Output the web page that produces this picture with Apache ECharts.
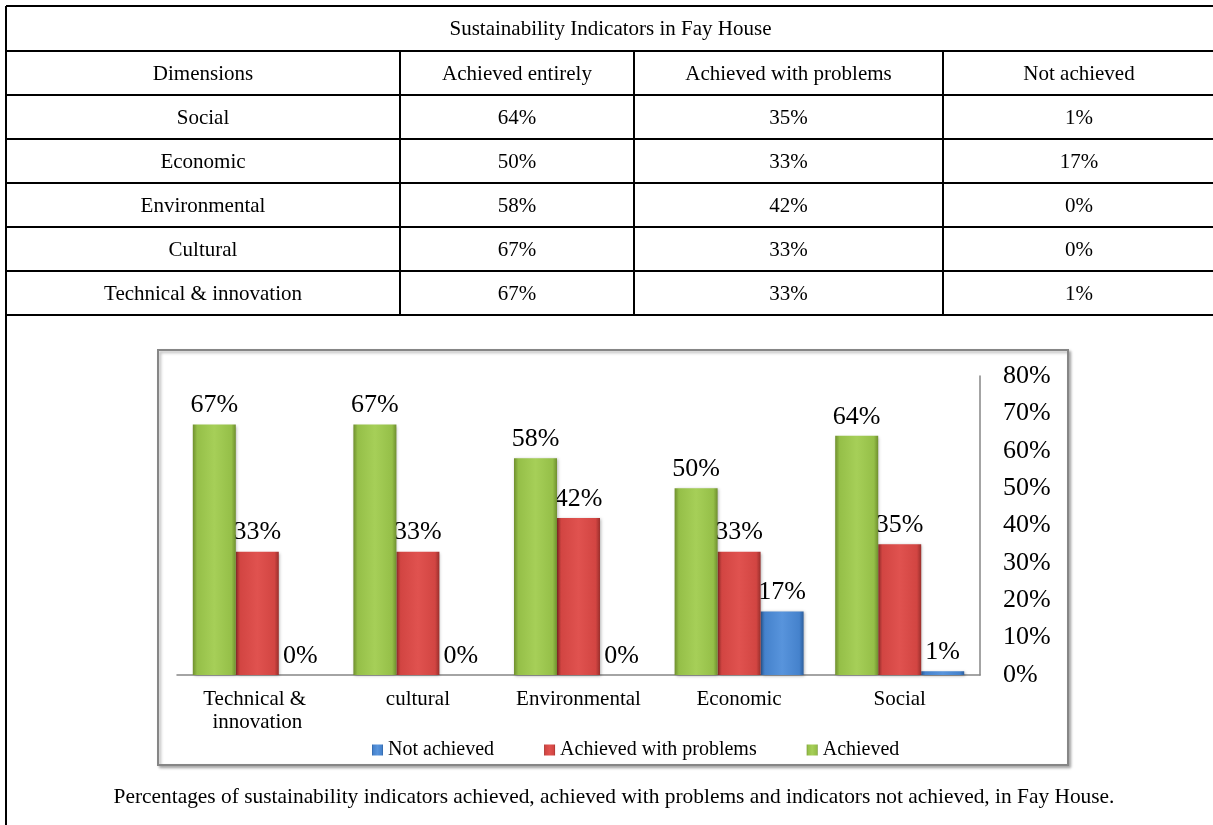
<!DOCTYPE html>
<html>
<head>
<meta charset="utf-8">
<script src="https://cdn.jsdelivr.net/npm/echarts@6/dist/echarts.min.js"></script>
<style>
  html, body { margin: 0; padding: 0; background: #fff; }
  #chart { width: 1213px; height: 825px; }
</style>
</head>
<body>
<div id="chart"></div>
<script>
// ---- Table data ----
const tableTitle = 'Sustainability Indicators in Fay House';
const tableHeader = ['Dimensions', 'Achieved entirely', 'Achieved with problems', 'Not achieved'];
const tableDimensions = ['Social', 'Economic', 'Environmental', 'Cultural', 'Technical & innovation'];
const tableAchieved = [64, 50, 58, 67, 67];
const tableProblems = [35, 33, 42, 33, 33];
const tableNotAchieved = [1, 17, 0, 0, 1];

// ---- Bar chart data ----
const categories = ['Technical & innovation', 'cultural', 'Environmental', 'Economic', 'Social'];
const achieved = [67, 67, 58, 50, 64];
const withProblems = [33, 33, 42, 33, 35];
const notAchieved = [0, 0, 0, 17, 1];
const legendOrder = ['Not achieved', 'Achieved with problems', 'Achieved'];
const yMin = 0, yMax = 80, yStep = 10;

const caption = 'Percentages of sustainability indicators achieved, achieved with problems and indicators not achieved, in Fay House.';

// ---- Layout ----
const FONT = "'Liberation Serif', 'Times New Roman', serif";
const tableLeft = 6, tableRight = 1215, tableTop = 6;
const firstRowLine = 51, rowH = 44;
const colLines = [400, 634, 943];
const pageBottom = 825;

function pct(v) { return v + '%'; }

function barColor(dark, mid, light) {
  return new echarts.graphic.LinearGradient(0, 0, 1, 0, [
    { offset: 0, color: dark },
    { offset: 0.1, color: mid },
    { offset: 0.5, color: light },
    { offset: 0.9, color: mid },
    { offset: 1, color: dark }
  ]);
}

// Table lines and cell texts
const graphics = [];
function hLine(y) {
  graphics.push({ type: 'line', z: 0, shape: { x1: tableLeft, y1: y, x2: tableRight, y2: y },
    style: { stroke: '#000', lineWidth: 2 } });
}
function vLine(x, y1, y2) {
  graphics.push({ type: 'line', z: 0, shape: { x1: x, y1: y1, x2: x, y2: y2 },
    style: { stroke: '#000', lineWidth: 2 } });
}
function cellText(txt, cx, cy, size) {
  graphics.push({ type: 'text', z: 1, x: cx, y: cy,
    style: { text: txt, fill: '#000', font: size + 'px ' + FONT,
      textAlign: 'center', align: 'center', textVerticalAlign: 'middle', verticalAlign: 'middle' } });
}

const rows = [tableHeader].concat(tableDimensions.map((d, i) =>
  [d, pct(tableAchieved[i]), pct(tableProblems[i]), pct(tableNotAchieved[i])]));
const lastLine = firstRowLine + rows.length * rowH;

hLine(tableTop);
for (let r = 0; r <= rows.length; r++) hLine(firstRowLine + r * rowH);
vLine(tableLeft, tableTop, pageBottom);
colLines.forEach(x => vLine(x, firstRowLine, lastLine));

cellText(tableTitle, (tableLeft + tableRight) / 2, (tableTop + firstRowLine) / 2 + 1, 21);
const colEdges = [tableLeft].concat(colLines, [tableRight]);
rows.forEach((row, r) => {
  const cy = firstRowLine + r * rowH + rowH / 2 + 1;
  row.forEach((txt, c) => cellText(txt, (colEdges[c] + colEdges[c + 1]) / 2, cy, 21));
});

// Chart frame
graphics.push({ type: 'rect', z: -10, shape: { x: 158, y: 350, width: 910, height: 415 },
  style: { fill: '#fff', stroke: '#868686', lineWidth: 2,
    shadowBlur: 3, shadowOffsetX: 2, shadowOffsetY: 2, shadowColor: 'rgba(0,0,0,0.3)' } });

// Caption
cellText(caption, 614, 797, 21.4);

const labelStyle = {
  show: true, position: 'top', distance: 6, color: '#000',
  fontFamily: FONT, fontSize: 26, formatter: p => pct(p.value)
};
const barShadow = { shadowBlur: 3, shadowOffsetX: 1, shadowOffsetY: 1, shadowColor: 'rgba(0,0,0,0.3)' };

const chart = echarts.init(document.getElementById('chart'), null, { renderer: 'canvas' });
chart.setOption({
  animation: false,
  backgroundColor: '#fff',
  textStyle: { fontFamily: FONT },
  graphic: { elements: graphics },
  grid: { left: 177, top: 376, width: 803, height: 299, containLabel: false },
  legend: {
    data: legendOrder,
    left: 367, top: 734,
    itemWidth: 11, itemHeight: 11, itemGap: 50,
    icon: 'rect',
    textStyle: { fontFamily: FONT, fontSize: 20, color: '#000', lineHeight: 22 }
  },
  xAxis: {
    type: 'category',
    data: categories,
    axisLine: { show: true, lineStyle: { color: '#868686', width: 1.5 } },
    axisTick: { show: false },
    axisLabel: {
      color: '#000', fontFamily: FONT, fontSize: 21, lineHeight: 23, margin: 13,
      width: 150, overflow: 'break', interval: 0
    }
  },
  yAxis: {
    type: 'value',
    position: 'right',
    min: yMin, max: yMax, interval: yStep,
    axisLine: { show: true, lineStyle: { color: '#868686', width: 1.5 } },
    axisTick: { show: false },
    splitLine: { show: false },
    axisLabel: { color: '#000', fontFamily: FONT, fontSize: 26, margin: 23, formatter: '{value}%' }
  },
  series: [
    {
      name: 'Achieved', type: 'bar', z: 4, data: achieved,
      barWidth: 43, barGap: '0%',
      itemStyle: Object.assign({ color: barColor('#6f8f2e', '#95bf48', '#a6cf58') }, barShadow),
      label: labelStyle
    },
    {
      name: 'Achieved with problems', type: 'bar', z: 3, data: withProblems,
      barWidth: 43, barGap: '0%',
      itemStyle: Object.assign({ color: barColor('#9a2f2c', '#d24542', '#e0524f') }, barShadow),
      label: labelStyle
    },
    {
      name: 'Not achieved', type: 'bar', z: 2, data: notAchieved,
      barWidth: 43, barGap: '0%',
      itemStyle: Object.assign({ color: barColor('#2d5f9e', '#4582cc', '#5894dc') }, barShadow),
      label: labelStyle
    }
  ]
});
</script>
</body>
</html>
